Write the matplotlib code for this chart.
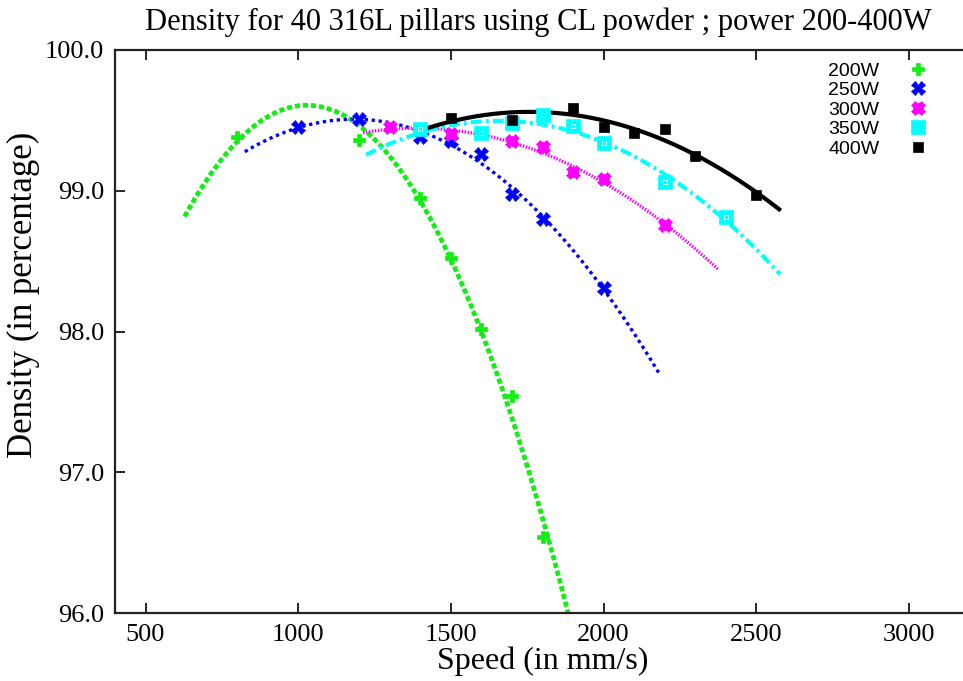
import numpy as np
import matplotlib
matplotlib.use("Agg")
import matplotlib.pyplot as plt

# === Data ===
labels = ["200W", "250W", "300W", "350W", "400W"]

speed_200 = [800, 1200, 1400, 1500, 1600, 1700, 1800]
dens_200 = [99.38, 99.36, 98.95, 98.52, 98.02, 97.54, 96.54]

speed_250 = [1000, 1200, 1400, 1500, 1600, 1700, 1800, 2000]
dens_250 = [99.45, 99.51, 99.38, 99.35, 99.26, 98.98, 98.80, 98.31]

speed_300 = [1300, 1500, 1700, 1800, 1900, 2000, 2200]
dens_300 = [99.45, 99.40, 99.35, 99.31, 99.13, 99.08, 98.76]

speed_350 = [1400, 1600, 1700, 1800, 1900, 2000, 2200, 2400]
dens_350 = [99.44, 99.41, 99.48, 99.54, 99.46, 99.34, 99.06, 98.81]

speed_400 = [1500, 1700, 1900, 2000, 2100, 2200, 2300, 2500]
dens_400 = [99.52, 99.50, 99.59, 99.45, 99.41, 99.44, 99.25, 98.97]

# speed range over which each quadratic fit is drawn
fit_range = [(628, 1900), (825, 2185), (1212, 2376), (1222, 2578), (1420, 2575)]

speeds = [speed_200, speed_250, speed_300, speed_350, speed_400]
dens = [dens_200, dens_250, dens_300, dens_350, dens_400]

# === Styles ===
colors = ["#11ee11", "#0000ff", "#ff00ff", "#00ffff", "#000000"]
markers = ["P", "X", "X", "s", "s"]
msizes = [9, 10, 10, 10, 7.5]
line_kw = [
    dict(lw=3.4, dashes=(1.1, 0.6)),
    dict(lw=2.4, dashes=(1.0, 1.1)),
    dict(lw=2.4, dashes=(0.45, 0.45)),
    dict(lw=3.0, dashes=(2.6, 1.0, 0.7, 1.0)),
    dict(lw=3.0, ls="-"),
]

fig = plt.figure(figsize=(9.63, 6.81), dpi=100)
ax = fig.add_axes([115 / 963, 1 - 613 / 681, (970 - 115) / 963, 563 / 681])

for i in range(5):
    x = np.array(speeds[i], dtype=float)
    y = np.array(dens[i])
    coef = np.polyfit(x, y, 2)
    xs = np.linspace(fit_range[i][0], fit_range[i][1], 300)
    ax.plot(xs, np.polyval(coef, xs), color=colors[i], zorder=2, **line_kw[i])

handles = []
for i in range(5):
    h, = ax.plot(speeds[i], dens[i], ls="none", marker=markers[i], ms=msizes[i],
                 color=colors[i], mec=colors[i], mew=0.5, zorder=3 + i)
    if i == 2:
        # 300W symbol is a thick asterisk: small plus under the X
        h2, = ax.plot(speed_300, dens_300, ls="none", marker="P", ms=6.5,
                      color=colors[2], mec=colors[2], mew=0.5, zorder=3 + i)
        h = (h, h2)
    if i == 3:
        # 350W squares carry a tiny open square inside
        ax.plot(speed_350, dens_350, ls="none", marker="s", ms=3, mfc="none",
                mec="white", mew=0.6, zorder=3.5 + i)
    handles.append(h)

ax.set_xlim(400, 3200)
ax.set_ylim(96.0, 100.0)
ax.set_xticks([500, 1000, 1500, 2000, 2500, 3000])
ax.set_yticks([96, 97, 98, 99, 100])
ax.set_yticklabels(["%.1f" % v for v in [96, 97, 98, 99, 100]])

serif = ["Liberation Serif", "DejaVu Serif"]
ax.tick_params(direction="in", length=7, width=1.2, top=True, right=False,
               labelsize=19, pad=8)
for lab in ax.get_xticklabels() + ax.get_yticklabels():
    lab.set_fontfamily(serif)
for s in ax.spines.values():
    s.set_linewidth(1.6)
    s.set_color("#222222")
ax.spines["right"].set_visible(False)

ax.set_xlabel("Speed (in mm/s)", fontsize=23, family=serif)
ax.set_ylabel("Density (in percentage)", fontsize=25, family=serif)
ax.xaxis.set_label_coords(0.5, -0.06)
ax.yaxis.set_label_coords(-0.088, 0.565)

fig.text(538 / 963, 1 - 22 / 681,
         "Density for 40 316L pillars using CL powder ; power 200-400W",
         ha="center", va="center", fontsize=22, family=serif)

leg = ax.legend(handles, labels, loc="upper right",
                bbox_to_anchor=(928 / 963, 1 - 62 / 681),
                bbox_transform=fig.transFigure, frameon=False, markerfirst=False,
                prop={"family": "Liberation Sans", "size": 14},
                labelspacing=0.1, handlelength=1.0, handletextpad=1.5,
                borderpad=0, borderaxespad=0)

fig.savefig("out.png", dpi=100)
